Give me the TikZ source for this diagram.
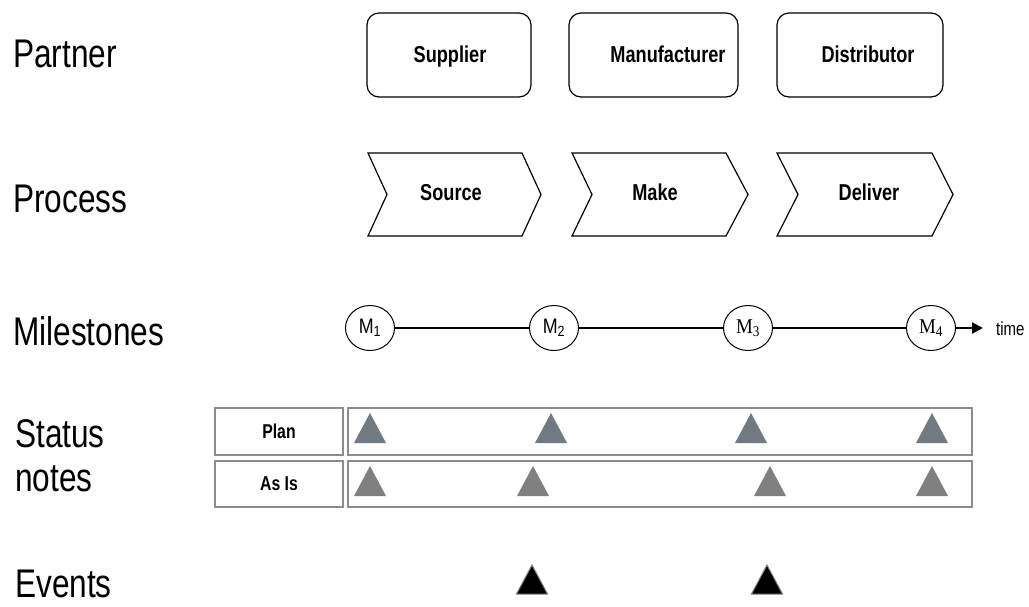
\documentclass[tikz,border=0pt]{standalone}
\usepackage{fontspec}
\setmainfont{Liberation Sans}[FakeStretch=0.79]
\newfontfamily\sansm{Liberation Sans}[FakeStretch=0.85]
\newfontfamily\serifm{Liberation Serif}[FakeStretch=0.9]
\usetikzlibrary{shapes.geometric,arrows.meta}
\definecolor{planfill}{HTML}{737980}
\definecolor{asisfill}{HTML}{808080}
\definecolor{boxgray}{HTML}{8C8C8C}
\begin{document}
\begin{tikzpicture}[x=1pt,y=-1pt,
  rowlabel/.style={anchor=base west,inner sep=0,font=\fontsize{40}{40}\selectfont},
  partnerbox/.style={draw,line width=1.2pt,rounded corners=12pt,minimum height=84pt},
  boxtext/.style={anchor=base,inner sep=0,font=\bfseries\fontsize{23}{23}\selectfont},
  chev/.style={draw,line width=1.2pt},
  mstone/.style={draw,ellipse,line width=1pt,minimum width=49pt,minimum height=45pt,inner sep=0,fill=white,font=\fontsize{21}{21}\selectfont},
  timeline/.style={line width=2.2pt},
  statbox/.style={draw=boxgray,line width=1.4pt,fill=white,inner sep=0,font=\bfseries\fontsize{20}{20}\selectfont},
  tri/.pic={\path[pic actions] (-16,15) -- (0,-15) -- (16,15) -- cycle;},
  evtri/.pic={\path[pic actions] (-15.5,14.5) -- (0,-14.5) -- (15.5,14.5) -- cycle;}
]
\useasboundingbox (0,0) rectangle (1029,606);

% row labels
\node[rowlabel] (lpartner) at (13,67) {Partner};
\node[rowlabel] (lprocess) at (13,212) {Process};
\node[rowlabel] (lmile) at (13,345) {Milestones};
\node[rowlabel] (lstatus) at (15,447) {Status};
\node[rowlabel] (lnotes) at (15,491) {notes};
\node[rowlabel] (levents) at (15,597) {Events};

% partners
\node[partnerbox,minimum width=164pt] (supplier) at (449,55) {};
\node[partnerbox,minimum width=169pt] (manuf) at (653.5,55) {};
\node[partnerbox,minimum width=166pt] (distr) at (860,55) {};
\node[boxtext] (tsupplier) at (450,62) {Supplier};
\node[boxtext] (tmanuf) at (668,62) {Manufacturer};
\node[boxtext] (tdistr) at (868,62) {Distributor};

% process chevrons
\draw[chev] (368,153) -- (522,153) -- (541,194.5) -- (522,236) -- (368,236) -- (387,194.5) -- cycle;
\draw[chev] (572,153) -- (726,153) -- (748,194.5) -- (726,236) -- (572,236) -- (592,194.5) -- cycle;
\draw[chev] (777,153) -- (932,153) -- (953,194.5) -- (932,236) -- (777,236) -- (798,194.5) -- cycle;
\node[boxtext] (source) at (451,200) {Source};
\node[boxtext] (make) at (655,200) {Make};
\node[boxtext] (deliver) at (869,200) {Deliver};

% milestones
\coordinate (tend) at (983,328);
\draw[timeline] (370,328) -- (554,328) -- (748,328) -- (931,328);
\draw[timeline,-{Triangle[length=11pt,width=11pt]}] (931,328) -- (tend);
\node[mstone] (m1) at (370,328) {\sansm M\textsubscript{1}};
\node[mstone] (m2) at (554,328) {\sansm M\textsubscript{2}};
\node[mstone] (m3) at (748,328) {\serifm M\textsubscript{3}};
\node[mstone] (m4) at (931,328) {\serifm M\textsubscript{4}};
\node[anchor=base west,inner sep=0,font=\fontsize{19}{19}\selectfont] (time) at (996,335) {time};

% status notes
\node[statbox,minimum width=128pt,minimum height=47pt] (plan) at (279,431.5) {Plan};
\node[statbox,minimum width=128pt,minimum height=46pt] (asis) at (279,484) {As Is};
\node[statbox,minimum width=624pt,minimum height=47pt] (planrow) at (660,431.5) {};
\node[statbox,minimum width=624pt,minimum height=46pt] (asisrow) at (660,484) {};

\pic[fill=planfill] at (370,428) {tri};
\pic[fill=planfill] at (551,428) {tri};
\pic[fill=planfill] at (751,428) {tri};
\pic[fill=planfill] at (932,428) {tri};

\pic[fill=asisfill] at (370,481) {tri};
\pic[fill=asisfill] at (533,481) {tri};
\pic[fill=asisfill] at (770,481) {tri};
\pic[fill=asisfill] at (932,481) {tri};

% events
\pic[fill=black,draw=gray,line width=1pt] at (532,579.5) {evtri};
\pic[fill=black,draw=gray,line width=1pt] at (767,579.5) {evtri};
\end{tikzpicture}
\end{document}
